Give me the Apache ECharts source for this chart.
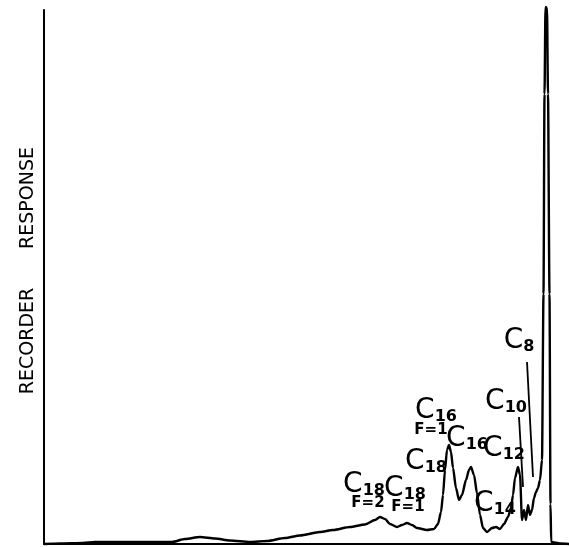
<!DOCTYPE html>
<html><head><meta charset="utf-8">
<script src="https://cdn.jsdelivr.net/npm/echarts@6/dist/echarts.min.js"></script>
<style>html,body{margin:0;padding:0;background:#fff}#c{width:569px;height:547px}</style>
</head><body><div id="c"></div>
<script>
// Retention (arbitrary chart units) and recorder response (arbitrary units)
const retentionTime = [0,16,39,51,76,106,128,141,156,171,186,206,223,241,256,276,289,306,321,331,336,341,346,353,358,363,368,373,383,390,394,397,399,401,403,405,407,409,412,415,418,422,425,427,430,433,436,439,443,448,452,456,460,464,467,469,471,474,476,478,480,482,484,486,488,490,492,494,496,498,499.5,500.5,501.5,503,504,505.5,506.5,507.2,516,525];
const response = [0,0.5,1,2,2,2,2,5,7,5.5,3.5,2,3,6,8.5,12,14,17,19.5,24,27,25,20,17,19,21,19,16,14,15,20,32,49,74,94,99,92,76,56,44,49,64,74,77,69,51,29,16,12,16,17,15,20,27,36,49,66,77,69,24,34,24,39,29,34,46,52,56,64,84,250,450,537,536,450,250,40,2,0.5,0];

// Peak labels
const peakCarbon = ['18','18','18','16','16','14','12','10','8'];
const peakUnsat = ['F=2','F=1','','F=1','','','','',''];
const axisTitleWords = ['RECORDER','RESPONSE'];

// Annotation placement (data coordinates)
const labelPos = [[320,59],[361,55],[382,82],[392,133],[423,105],[451,40],[460,95],[462,142],[475,203]];
const unsatPos = [[324,41],[364,37],null,[387,114],null,null,null,null,null];
const leaderLines = [[[475,127],[479,57]],[[483,182],[489,67]]];

const chart = echarts.init(document.getElementById('c'));
const font = 'DejaVu Sans';
const mp = [];
peakCarbon.forEach((n,i)=>{
  mp.push({coord: labelPos[i], value: 'C'+n, label:{formatter:'{c|C}{s|'+n+'}'}});
  if (peakUnsat[i]) mp.push({coord: unsatPos[i], value: peakUnsat[i], label:{formatter:'{f|'+peakUnsat[i]+'}'}});
});
chart.setOption({
  animation:false,
  grid:{left:44,right:0,top:10,bottom:3},
  xAxis:{type:'value',min:0,max:525,axisLine:{lineStyle:{color:'#000',width:2}},axisTick:{show:false},axisLabel:{show:false},splitLine:{show:false}},
  yAxis:{type:'value',min:0,max:534,axisLine:{show:true,lineStyle:{color:'#000',width:2}},axisTick:{show:false},axisLabel:{show:false},splitLine:{show:false}},
  graphic:[
    {type:'text',x:28,y:341,rotation:Math.PI/2,style:{text:axisTitleWords[0],font:'19px "DejaVu Sans"',fill:'#000',align:'center',verticalAlign:'middle'}},
    {type:'text',x:28,y:198,rotation:Math.PI/2,style:{text:axisTitleWords[1],font:'19px "DejaVu Sans"',fill:'#000',align:'center',verticalAlign:'middle'}}
  ],
  series:[{
    type:'line',
    data: retentionTime.map((t,i)=>[t,response[i]]),
    showSymbol:false, clip:false,
    smooth:0.25, smoothMonotone:'x',
    lineStyle:{color:'#000',width:2.4},
    markPoint:{
      symbol:'circle',symbolSize:0,
      label:{show:true,position:'inside',color:'#000',
        rich:{
          c:{fontFamily:font,fontSize:28,color:'#000',verticalAlign:'bottom'},
          s:{fontFamily:font,fontSize:16,fontWeight:'bold',color:'#000',verticalAlign:'bottom'},
          f:{fontFamily:font,fontSize:15,fontWeight:'bold',color:'#000'}
        }},
      data: mp
    },
    markLine:{
      symbol:'none',silent:true,
      lineStyle:{color:'#000',width:1.8,type:'solid'},
      label:{show:false},
      data: leaderLines.map(l=>[{coord:l[0]},{coord:l[1]}])
    }
  }]
});
</script></body></html>
